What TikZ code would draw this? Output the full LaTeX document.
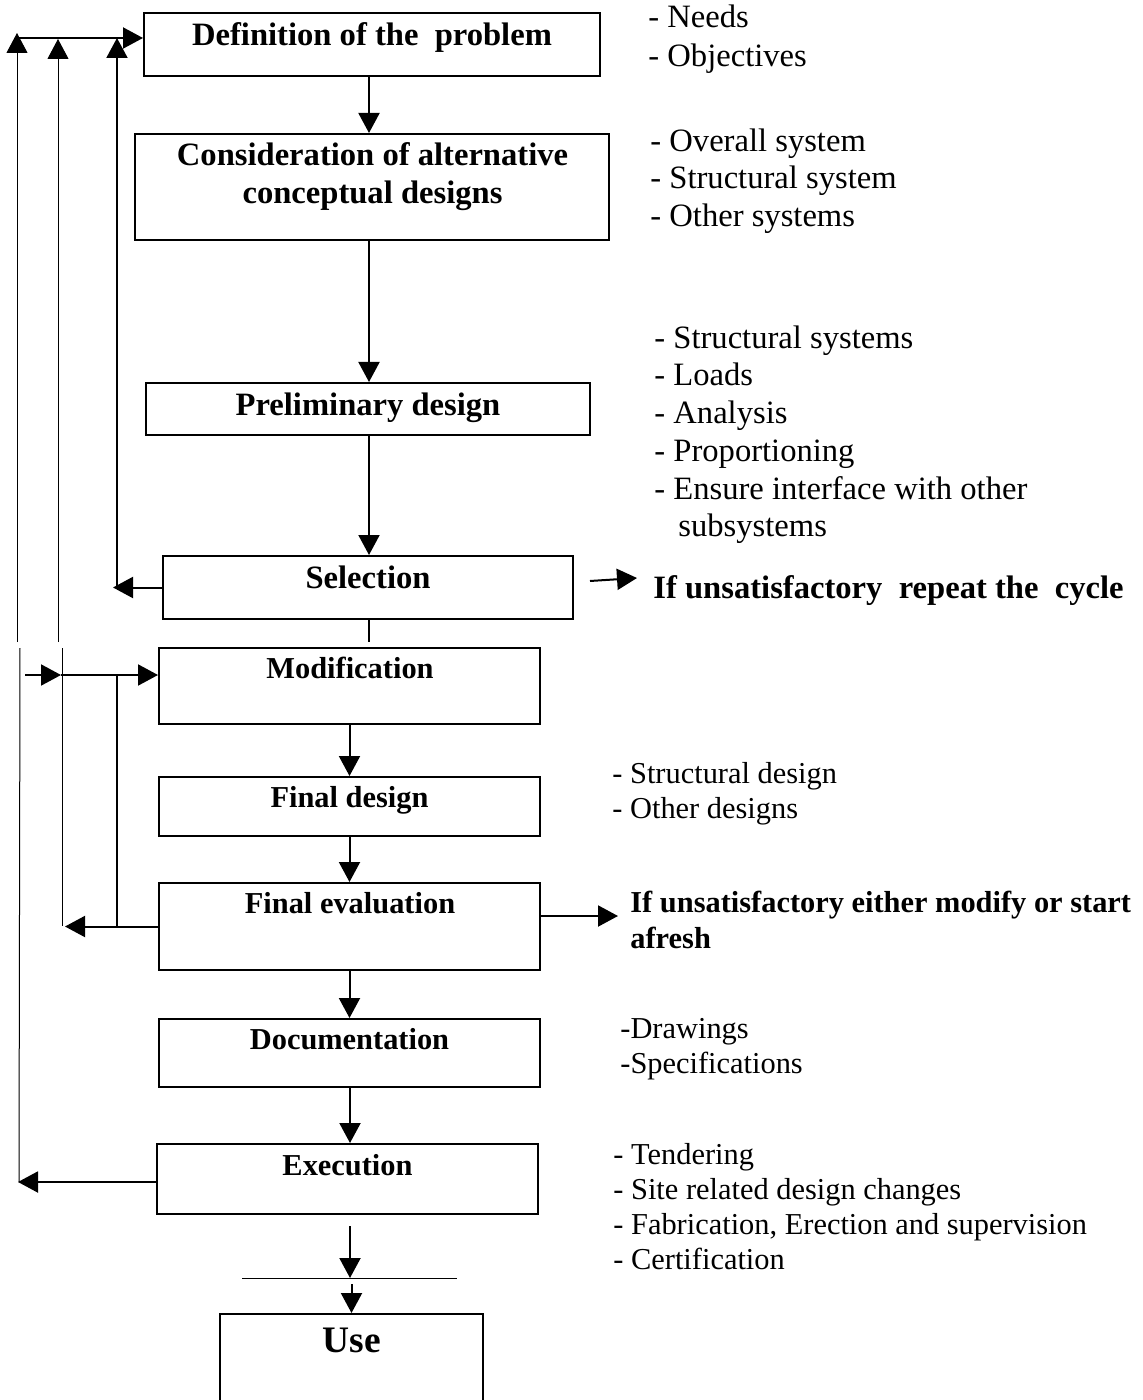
\documentclass[tikz,border=0pt]{standalone}
\usepackage{fontspec}
\setmainfont{Liberation Serif}
\usetikzlibrary{arrows.meta}
\begin{document}
\begin{tikzpicture}[x=0.5pt,y=-0.5pt,
  box/.style={draw, line width=1pt, inner sep=0pt},
  btxt/.style={font=\fontsize{16.3}{18}\selectfont\bfseries, inner sep=0pt, text height=10.8pt, text depth=0pt},
  btxtl/.style={font=\fontsize{15.2}{17}\selectfont\bfseries, inner sep=0pt, text height=10pt, text depth=0pt},
  lst/.style={font=\fontsize{16.3}{18}\selectfont, anchor=west, inner sep=0pt, text height=10.8pt, text depth=0pt},
  lstl/.style={font=\fontsize{15.2}{17}\selectfont, anchor=west, inner sep=0pt, text height=10pt, text depth=0pt},
  blst/.style={lst, font=\fontsize{16.3}{18}\selectfont\bfseries},
  blstl/.style={lstl, font=\fontsize{15.2}{17}\selectfont\bfseries},
  arr/.style={line width=1pt, -{Triangle[length=10pt,width=10.5pt]}},
  arrt/.style={line width=0.5pt, -{Triangle[length=10pt,width=10.5pt]}},
  thinl/.style={line width=0.5pt},
  medl/.style={line width=1pt}]
\useasboundingbox (0,0) rectangle (1143,1400);

% boxes
\node[box, minimum width=228pt, minimum height=31.5pt] (def) at (372,44.5) {};
\node[box, minimum width=237pt, minimum height=53pt] (cons) at (372,187) {};
\node[box, minimum width=222pt, minimum height=26pt] (pre) at (368,409) {};
\node[box, minimum width=205pt, minimum height=31.5pt] (sel) at (368,587.5) {};
\node[box, minimum width=190.5pt, minimum height=38pt] (mod) at (349.5,686) {};
\node[box, minimum width=190.5pt, minimum height=29.5pt] (fin) at (349.5,806.5) {};
\node[box, minimum width=190.5pt, minimum height=43.5pt] (fe) at (349.5,926.5) {};
\node[box, minimum width=190.5pt, minimum height=34pt] (doc) at (349.5,1053) {};
\node[box, minimum width=190.5pt, minimum height=35pt] (exe) at (347.5,1179) {};
\node[box, minimum width=131.5pt, minimum height=49pt] (use) at (351.5,1363) {};

% box texts
\node[btxt] (tdef) at (372,35) {Definition of the~ problem};
\node[btxt] (tcons1) at (372.5,155) {Consideration of alternative};
\node[btxt] (tcons2) at (372.5,193) {conceptual designs};
\node[btxt] (tpre) at (368,405) {Preliminary design};
\node[btxt] (tsel) at (368,578) {Selection};
\node[btxtl] (tmod) at (350,668) {Modification};
\node[btxtl] (tfin) at (349.5,797) {Final design};
\node[btxtl] (tfe) at (350,903) {Final evaluation};
\node[btxtl] (tdoc) at (349.5,1039) {Documentation};
\node[btxtl] (texe) at (347.5,1165) {Execution};
\node[btxt, font=\fontsize{18.7}{21}\selectfont\bfseries, text height=12.4pt] (tuse) at (352,1340) {Use};

% side lists
\node[lst] (n1) at (648,17) {- Needs};
\node[lst] (n2) at (648,56) {- Objectives};
\node[lst] (o1) at (650,141) {- Overall system};
\node[lst] (o2) at (650,178) {- Structural system};
\node[lst] (o3) at (650,216) {- Other systems};
\node[lst] (p1) at (654,338) {- Structural systems};
\node[lst] (p2) at (654,375) {- Loads};
\node[lst] (p3) at (654,413) {- Analysis};
\node[lst] (p4) at (654,451) {- Proportioning};
\node[lst] (p5) at (654,489) {- Ensure interface with other};
\node[lst] (p6) at (678,526) {subsystems};
\node[blst] (rep) at (653,588) {If unsatisfactory~ repeat the~ cycle};
\node[lstl] (f1) at (612,773) {- Structural design};
\node[lstl] (f2) at (612,808) {- Other designs};
\node[blstl] (mf1) at (630,902) {If unsatisfactory either modify or start};
\node[blstl] (mf2) at (630,938) {afresh};
\node[lstl] (d1) at (620,1028) {-Drawings};
\node[lstl] (d2) at (620,1063) {-Specifications};
\node[lstl] (e1) at (613,1154) {- Tendering};
\node[lstl] (e2) at (613,1189) {- Site related design changes};
\node[lstl] (e3) at (613,1224) {- Fabrication, Erection and supervision};
\node[lstl] (e4) at (613,1259) {- Certification};

% main flow
\draw[arr] ([xshift=-1.5pt]def.south) -- ([xshift=-1.5pt]cons.north);
\draw[arr] ([xshift=-1.5pt]cons.south) -- ([xshift=-1.5pt]cons.south |- pre.north);
\draw[arr] ([xshift=0.5pt]pre.south) -- ([xshift=0.5pt]sel.north);
\coordinate (sgap) at (369,642);
\draw[medl] ([xshift=0.5pt]sel.south) -- (sgap);
\draw[arr] (mod.south) -- (fin.north);
\draw[arr] (fin.south) -- (fe.north);
\draw[arr] (fe.south) -- (doc.north);
\draw[arr] ([xshift=0.25pt]doc.south) -- ([xshift=0.25pt]doc.south |- exe.north);
\coordinate (u1) at (350,1226);
\coordinate (u2) at (350,1278);
\coordinate (u3) at (351.5,1284);
\coordinate (hl1) at (242,1278);
\coordinate (hl2) at (457,1278);
\draw[arr] (u1) -- (u2);
\draw[thinl] (hl1) -- (hl2);
\draw[arr] (u3) -- (u3 |- use.north);

% feedback lines, upper part
\coordinate (t0) at (17,38);
\draw[arr] (t0) -- (t0 -| def.west);
\coordinate (a1) at (17,642);
\coordinate (a0) at (17,33);
\draw[arrt] (a1) -- (a0);
\coordinate (b1) at (58,642);
\coordinate (b0) at (58,39);
\draw[arrt] (b1) -- (b0);
\coordinate (cB) at (117,588);
\coordinate (c0) at (117,38);
\draw[arr] (cB) -- (c0);
\coordinate (cL) at (113,587.5);
\draw[arr] (sel.west) -- (cL);

% feedback lines, lower part
\coordinate (a2) at (20,648);
\coordinate (a3) at (19,1182);
\draw[thinl] (a2) -- (a3);
\coordinate (eL) at (18,1182);
\draw[arr] ([yshift=-1.5pt]exe.west) -- (eL);
\coordinate (b2) at (62,648);
\coordinate (b3) at (62,926);
\draw[thinl] (b2) -- (b3);
\coordinate (feL) at (65,924.5);
\draw[arr] (fe.west) -- (fe.west -| feL);
\coordinate (m0) at (25,675);
\coordinate (m1) at (61,675);
\draw[arr] (m0) -- (m1);
\draw[arr] (m1) -- (m1 -| mod.west);
\coordinate (v0) at (117,675);
\coordinate (v1) at (117,928);
\draw[medl] (v0) -- (v1);

% right arrows
\coordinate (r1s) at (590,581);
\coordinate (r1e) at (637,578);
\draw[arr] (r1s) -- (r1e);
\coordinate (r2e) at (618,916);
\draw[arr] (fe.east |- r2e) -- (r2e);
\end{tikzpicture}
\end{document}
